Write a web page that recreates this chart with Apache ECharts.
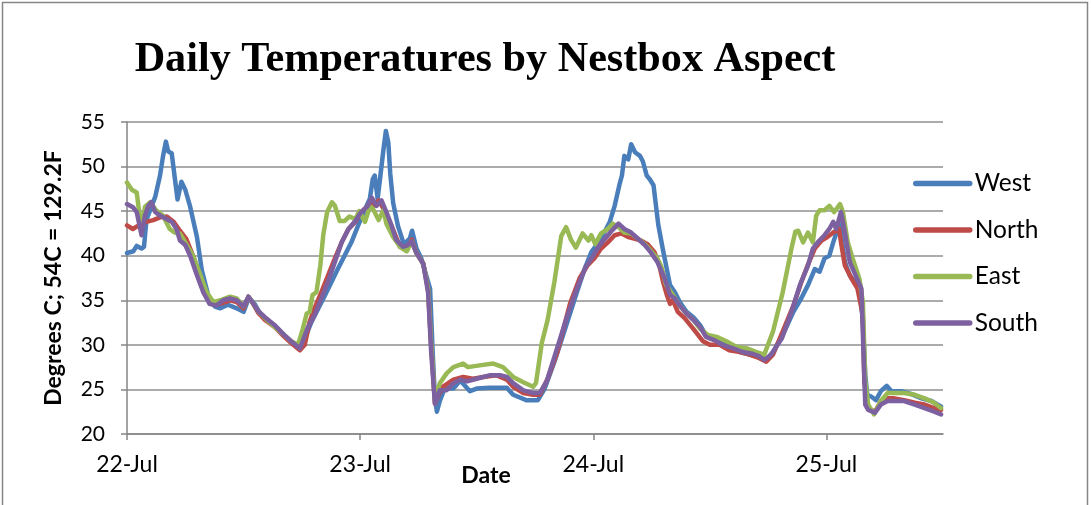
<!DOCTYPE html>
<html>
<head>
<meta charset="utf-8">
<script src="https://cdn.jsdelivr.net/npm/echarts@6/dist/echarts.min.js"></script>
<style>
html,body{margin:0;padding:0;background:#fff;}
#chart{width:1091px;height:505px;}
</style>
</head>
<body>
<div id="chart"></div>
<script>
// x = hours since 22-Jul 00:00, y = degrees C
const tickLabels = ['22-Jul', '23-Jul', '24-Jul', '25-Jul'];
const seriesNames = ['West', 'North', 'East', 'South'];

const westData = [[0,40.3],[0.65,40.5],[1.0,41.1],[1.5,40.8],[1.75,41.0],[2.0,44.0],[2.9,46.6],[3.4,49.0],[3.7,51.1],[4.0,52.8],[4.25,51.7],[4.6,51.5],[4.9,48.9],[5.2,46.3],[5.6,48.3],[6.0,47.4],[6.5,45.5],[7.2,42.1],[7.7,38.4],[8.4,35.4],[9.05,34.3],[9.6,34.1],[10.4,34.5],[11.3,34.1],[12.0,33.7],[12.55,35.3],[13.2,34.5],[13.7,33.5],[14.2,33.0],[15.2,32.2],[16.2,31.1],[16.9,30.4],[17.9,29.6],[19.0,32.6],[20.4,35.6],[21.7,38.5],[23.1,41.5],[23.8,43.4],[24.5,45.2],[25.0,46.4],[25.3,48.6],[25.5,49.0],[25.8,46.4],[26.0,48.2],[26.4,51.9],[26.65,54.0],[26.9,52.7],[27.1,49.2],[27.4,45.9],[27.9,43.3],[28.5,41.3],[29.1,41.9],[29.35,42.8],[29.8,40.8],[30.3,39.7],[30.8,37.8],[31.2,36.3],[31.45,29.6],[31.7,24.0],[31.9,22.5],[32.2,23.7],[32.7,25.1],[33.6,25.1],[34.3,26.0],[35.3,24.8],[36.0,25.1],[37.3,25.2],[39.1,25.2],[39.75,24.4],[41.1,23.8],[42.3,23.8],[43.0,25.1],[44.0,28.1],[45.1,31.8],[46.1,35.2],[47.1,38.5],[47.8,40.4],[48.8,41.9],[49.7,43.8],[50.2,45.6],[50.7,48.0],[50.95,49.0],[51.2,51.2],[51.6,50.8],[51.9,52.5],[52.3,51.6],[52.8,51.2],[53.1,50.6],[53.5,49.0],[53.8,48.6],[54.2,47.9],[54.7,43.4],[55.2,40.5],[55.9,36.7],[56.4,35.9],[56.9,34.8],[57.6,33.7],[58.3,33.1],[59.0,32.2],[59.6,31.1],[60.3,30.9],[60.9,30.35],[61.7,30.0],[63.1,29.2],[64.1,28.9],[65.1,28.7],[65.8,28.3],[66.5,29.2],[67.5,31.1],[68.6,33.7],[69.4,35.2],[70.1,36.7],[70.8,38.5],[71.3,38.2],[71.8,39.7],[72.3,40.0],[72.7,41.5],[73.1,42.8],[73.4,43.5],[73.9,39.3],[74.4,37.8],[74.9,37.1],[75.4,36.7],[75.75,32.6],[76.0,26.6],[76.2,24.4],[76.6,24.2],[77.1,23.8],[77.6,24.8],[78.2,25.4],[78.7,24.8],[79.7,24.8],[80.7,24.5],[81.8,24.0],[82.8,23.7],[83.8,23.1]];

const northData = [[0,43.4],[0.6,43.0],[1.2,43.4],[2.0,43.8],[2.7,44.0],[3.4,44.3],[4.1,44.4],[4.8,43.8],[5.45,42.8],[6.1,41.9],[6.8,40.0],[7.5,37.8],[8.2,35.6],[8.9,34.5],[9.6,34.6],[10.6,35.0],[11.3,34.8],[12.0,34.1],[12.5,35.4],[13.0,34.6],[13.5,33.6],[14.2,32.8],[15.2,32.0],[16.2,30.9],[16.9,30.2],[17.8,29.4],[18.3,30.0],[18.8,32.6],[19.3,34.1],[20.0,35.9],[20.7,37.8],[21.4,39.7],[22.1,41.5],[22.8,43.0],[23.5,43.8],[24.1,44.9],[24.8,45.6],[25.2,46.2],[25.5,45.6],[25.9,46.2],[26.4,45.3],[26.9,44.1],[27.4,42.9],[28.1,41.0],[28.8,40.6],[29.3,41.8],[29.8,40.3],[30.5,39.1],[31.0,36.2],[31.3,30.2],[31.7,23.4],[32.0,24.2],[32.5,25.3],[33.6,26.1],[34.6,26.4],[35.6,26.2],[36.7,26.4],[38.0,26.6],[39.1,26.1],[39.75,25.3],[40.8,24.6],[41.8,24.4],[42.5,24.4],[43.3,26.2],[44.3,29.2],[45.6,34.6],[46.6,37.5],[47.4,38.9],[48.1,39.7],[48.8,40.8],[49.5,41.5],[50.2,42.3],[50.9,42.5],[51.6,42.1],[52.3,41.9],[52.9,41.7],[53.6,41.3],[54.3,40.4],[54.8,38.9],[55.2,37.0],[55.6,35.5],[55.9,34.6],[56.2,35.0],[56.7,33.7],[57.4,33.0],[58.3,31.8],[59.3,30.4],[60.0,30.0],[61.0,30.0],[62.0,29.4],[63.1,29.2],[64.1,28.9],[65.1,28.5],[65.8,28.1],[66.5,28.9],[67.5,31.5],[68.6,34.4],[69.4,37.0],[70.1,39.0],[70.8,40.8],[71.5,41.7],[72.1,42.1],[72.7,42.6],[73.3,43.0],[73.5,41.5],[73.9,38.9],[74.6,37.4],[75.2,36.3],[75.75,33.3],[75.9,25.9],[76.3,22.9],[77.0,22.5],[77.6,23.7],[78.3,24.0],[79.0,24.0],[80.0,23.8],[81.1,23.5],[82.1,23.3],[83.1,22.9],[83.8,22.7]];

const eastData = [[0,48.2],[0.5,47.4],[1.0,47.1],[1.3,44.5],[1.55,43.2],[1.85,45.5],[2.4,46.0],[3.0,45.1],[3.7,44.5],[4.4,43.0],[4.9,42.6],[5.45,42.5],[6.1,41.3],[6.8,40.0],[7.5,38.0],[8.2,35.9],[8.9,34.8],[9.6,35.0],[10.6,35.4],[11.3,35.2],[12.0,34.3],[12.5,35.4],[13.0,34.6],[13.5,33.8],[14.2,33.0],[15.2,32.0],[16.2,31.1],[16.9,30.4],[17.6,30.0],[18.1,31.8],[18.5,33.5],[18.8,33.7],[19.1,35.6],[19.5,35.9],[19.9,38.9],[20.2,42.3],[20.6,44.9],[21.1,46.0],[21.4,45.6],[21.9,43.9],[22.4,43.9],[22.9,44.4],[23.5,44.1],[23.9,45.0],[24.5,43.8],[25.0,45.5],[25.3,45.3],[25.9,44.0],[26.4,45.1],[26.7,43.6],[27.4,42.1],[28.1,41.0],[28.8,40.5],[29.3,41.6],[29.8,40.3],[30.5,39.1],[31.0,36.2],[31.3,30.2],[31.7,23.8],[32.2,25.7],[32.9,26.8],[33.6,27.5],[34.6,27.9],[35.1,27.5],[36.3,27.7],[37.7,27.9],[38.7,27.5],[39.75,26.4],[40.8,25.8],[41.8,25.3],[42.1,25.7],[42.7,30.2],[43.3,32.8],[44.0,37.1],[44.7,42.2],[45.2,43.2],[45.7,41.8],[46.2,40.9],[46.9,42.5],[47.5,41.7],[47.8,42.3],[48.2,41.3],[48.8,42.5],[49.5,43.0],[50.0,43.6],[50.6,43.2],[51.2,42.6],[51.9,42.5],[52.6,41.9],[53.3,41.3],[53.9,40.6],[54.6,39.7],[55.0,38.8],[55.5,36.7],[56.2,35.6],[56.9,34.4],[57.6,33.5],[58.3,32.8],[59.0,31.8],[59.8,31.1],[60.7,30.9],[61.7,30.4],[62.7,29.8],[63.8,29.6],[64.8,29.2],[65.6,28.9],[66.5,31.5],[67.5,35.9],[68.4,40.8],[68.8,42.7],[69.1,42.8],[69.6,41.5],[70.1,42.6],[70.6,41.5],[70.95,44.5],[71.3,45.1],[71.8,45.1],[72.3,45.6],[72.8,44.9],[73.4,45.8],[73.7,44.9],[74.2,41.5],[74.7,39.7],[75.4,37.4],[75.75,34.8],[76.0,25.9],[76.3,23.3],[76.9,22.2],[77.6,23.7],[78.3,24.6],[79.0,24.6],[80.0,24.6],[81.1,24.4],[82.1,24.0],[83.1,23.5],[83.8,22.9]];

const southData = [[0,45.8],[0.65,45.4],[1.0,44.9],[1.5,42.3],[1.85,44.5],[2.2,45.6],[2.5,46.0],[2.9,44.9],[3.4,44.5],[4.1,44.1],[4.6,43.8],[5.1,43.0],[5.45,41.7],[6.0,41.2],[6.5,40.0],[7.2,37.8],[7.85,35.9],[8.5,34.6],[9.2,34.4],[9.9,35.0],[10.6,35.2],[11.3,35.0],[12.0,34.3],[12.5,35.4],[13.0,34.6],[13.5,33.8],[14.2,33.1],[15.2,32.2],[16.2,31.1],[16.9,30.4],[17.8,29.6],[18.6,31.9],[19.3,33.3],[20.0,35.2],[20.7,37.1],[21.4,39.3],[22.1,41.5],[22.8,43.0],[23.5,43.9],[24.1,44.9],[24.8,45.6],[25.2,46.5],[25.7,45.6],[26.2,46.2],[26.7,44.9],[27.2,43.5],[27.7,41.8],[28.4,41.0],[28.9,41.2],[29.3,41.6],[29.8,40.3],[30.5,39.1],[31.0,35.8],[31.3,29.4],[31.7,23.4],[32.2,24.9],[32.9,24.9],[33.6,25.7],[34.3,26.1],[35.0,25.9],[36.0,26.2],[37.4,26.6],[38.4,26.6],[39.1,26.4],[39.75,25.7],[40.8,24.9],[41.8,24.6],[42.5,24.6],[43.2,25.9],[44.1,29.0],[45.1,32.5],[46.2,36.0],[47.2,38.7],[48.0,40.0],[48.6,41.1],[49.2,41.9],[49.9,42.8],[50.6,43.6],[51.2,43.0],[51.9,42.6],[52.6,41.9],[53.3,41.2],[53.9,40.4],[54.6,39.3],[55.3,37.6],[55.9,35.6],[56.4,35.2],[56.9,34.4],[57.6,33.5],[58.3,32.8],[59.0,32.0],[59.6,30.9],[60.5,30.5],[61.3,30.0],[62.4,29.6],[63.4,29.2],[64.4,29.0],[65.1,28.7],[65.6,28.3],[66.3,28.9],[67.4,30.7],[68.4,33.7],[69.3,36.8],[70.1,38.9],[70.6,40.8],[71.1,41.5],[71.8,42.3],[72.3,43.0],[72.7,43.8],[73.0,43.0],[73.5,44.9],[73.9,42.6],[74.4,39.3],[75.0,37.8],[75.6,36.3],[75.85,28.0],[76.0,23.3],[76.3,22.7],[77.0,22.4],[77.6,23.3],[78.3,23.7],[79.0,23.7],[80.0,23.7],[81.1,23.3],[82.1,22.9],[83.1,22.5],[83.8,22.2]];

const seriesData = [westData, northData, eastData, southData];
const seriesColors = ['#4A7EBB', '#BE4B48', '#98B954', '#7D60A0'];

const chart = echarts.init(document.getElementById('chart'), null, {renderer: 'canvas'});
const FONT = 'Lato';
const AXIS_GRAY = '#868686';

chart.setOption({
  animation: false,
  backgroundColor: '#ffffff',
  title: {
    text: 'Daily Temperatures by Nestbox Aspect',
    left: 480, top: 34,
    textAlign: 'center',
    textStyle: {fontFamily: 'Liberation Serif', fontWeight: 'bold', fontSize: 42.2, color: '#000'}
  },
  graphic: [{
    type: 'rect', silent: true, z: -1,
    shape: {x: 2.5, y: 2.5, width: 1085, height: 520},
    style: {fill: 'none', stroke: AXIS_GRAY, lineWidth: 1.5}
  }],
  legend: {
    orient: 'vertical',
    left: 913, top: 171, padding: 0,
    itemWidth: 54, itemHeight: 24, itemGap: 21.5,
    data: seriesNames,
    itemStyle: {opacity: 0},
    lineStyle: {width: 5.5, cap: 'round'},
    textStyle: {fontFamily: FONT, fontSize: 24.5, color: '#000', lineHeight: 24}
  },
  grid: {left: 127, right: 148, top: 122, bottom: 71, containLabel: false},
  xAxis: {
    type: 'value', min: 0, max: 84, interval: 24,
    name: 'Date', nameLocation: 'middle', nameGap: 30, nameMoveOverlap: false,
    nameTextStyle: {fontFamily: FONT, fontWeight: 'bold', fontSize: 23, color: '#000', padding: [0, 98, 0, 0]},
    axisLine: {show: true, lineStyle: {color: AXIS_GRAY, width: 1.5}},
    axisTick: {show: true, length: 6, lineStyle: {color: AXIS_GRAY, width: 1.5}, customValues: [0, 24, 48, 72]},
    axisLabel: {
      margin: 19, fontFamily: FONT, fontSize: 23, color: '#000',
      customValues: [0, 24, 48, 72],
      formatter: v => tickLabels[Math.round(v / 24)] || ''
    },
    splitLine: {show: false}
  },
  yAxis: {
    type: 'value', min: 20, max: 55, interval: 5,
    name: 'Degrees C; 54C = 129.2F', nameLocation: 'middle', nameGap: 62, nameRotate: 90, nameMoveOverlap: false,
    nameTextStyle: {fontFamily: FONT, fontWeight: 'bold', fontSize: 23, color: '#000'},
    axisLine: {show: true, lineStyle: {color: AXIS_GRAY, width: 1.5}},
    axisTick: {show: true, length: 6, inside: false, lineStyle: {color: AXIS_GRAY, width: 1.5}},
    axisLabel: {margin: 22, fontFamily: FONT, fontSize: 21, color: '#000'},
    splitLine: {show: true, lineStyle: {color: '#8f8f8f', width: 1.5}}
  },
  series: seriesNames.map((name, i) => ({
    name: name,
    type: 'line',
    data: seriesData[i],
    symbol: 'none',
    showSymbol: false,
    color: seriesColors[i],
    lineStyle: {width: 4.5, color: seriesColors[i], cap: 'round', join: 'round'},
    z: 2 + i
  }))
});
</script>
</body>
</html>
